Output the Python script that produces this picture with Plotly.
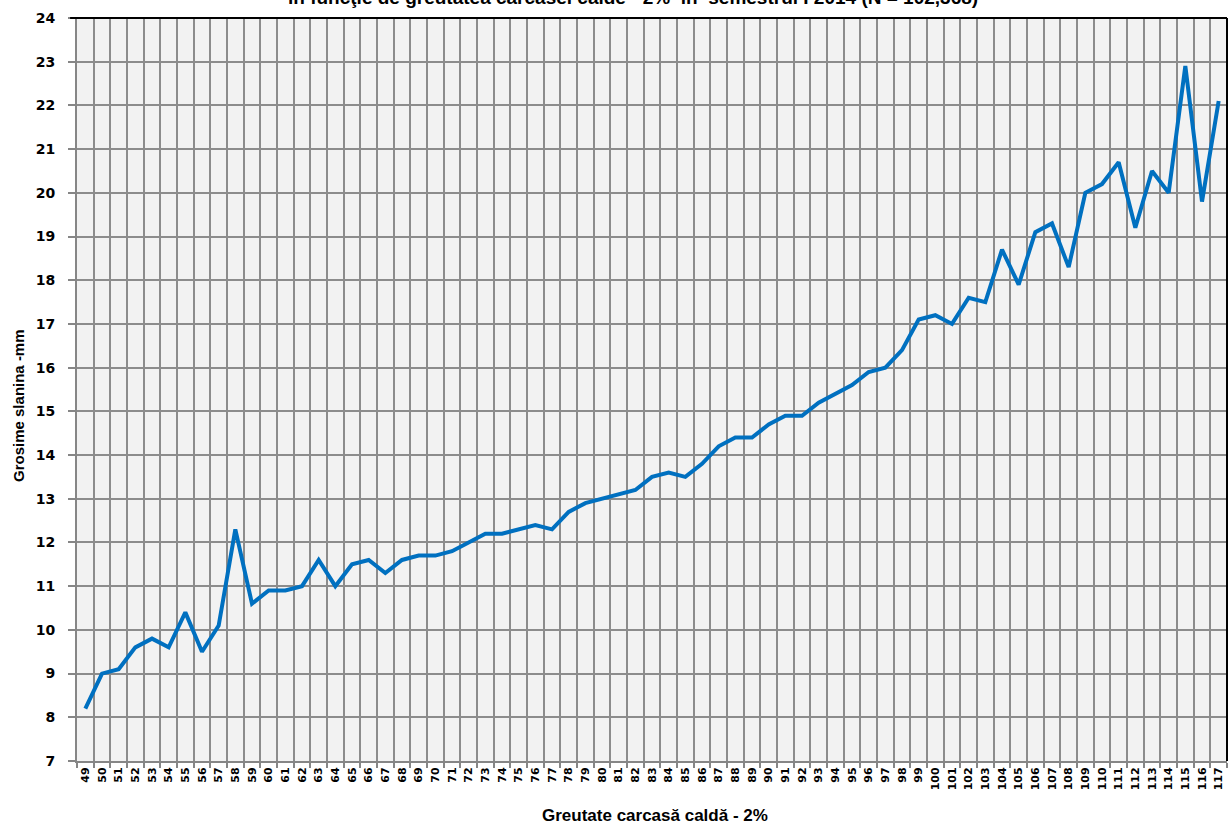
import plotly.graph_objects as go

weights = [str(w) for w in range(49, 118)]
backfat = [8.2, 9.0, 9.1, 9.6, 9.8, 9.6, 10.4, 9.5, 10.1, 12.3,
           10.6, 10.9, 10.9, 11.0, 11.6, 11.0, 11.5, 11.6, 11.3, 11.6,
           11.7, 11.7, 11.8, 12.0, 12.2, 12.2, 12.3, 12.4, 12.3, 12.7,
           12.9, 13.0, 13.1, 13.2, 13.5, 13.6, 13.5, 13.8, 14.2, 14.4,
           14.4, 14.7, 14.9, 14.9, 15.2, 15.4, 15.6, 15.9, 16.0, 16.4,
           17.1, 17.2, 17.0, 17.6, 17.5, 18.7, 17.9, 19.1, 19.3, 18.3,
           20.0, 20.2, 20.7, 19.2, 20.5, 20.0, 22.9, 19.8, 22.1]
y_ticks = list(range(7, 25))

title_text = "în funcţie de greutatea carcasei calde - 2%  în  semestrul I 2014 (N = 102,368)"
x_title = "Greutate carcasă caldă - 2%"
y_title = "Grosime slanina -mm"

W, H = 1229, 825
L, R, T, B = 77, 2, 18, 64
PW, PH = W - L - R, H - T - B

fig = go.Figure()
fig.add_trace(go.Scatter(
    x=weights, y=backfat, mode="lines",
    line=dict(color="#0070c0", width=4),
    showlegend=False, hoverinfo="x+y"))

fig.update_layout(
    width=W, height=H,
    margin=dict(l=L, r=R, t=T, b=B),
    paper_bgcolor="white",
    plot_bgcolor="#f2f2f2",
    xaxis=dict(
        type="category",
        tickson="boundaries",
        showgrid=True, gridcolor="#8c8c8c", gridwidth=2,
        ticks="outside", ticklen=5, tickcolor="#868686", tickwidth=2,
        showline=True, linecolor="#868686", linewidth=2,
        tickangle=-90,
        tickfont=dict(family="DejaVu Sans", size=11, color="black", weight="bold"),
        range=[-0.5, len(weights) - 0.5],
    ),
    yaxis=dict(
        range=[7, 24],
        tickvals=y_ticks,
        showgrid=True, gridcolor="#8c8c8c", gridwidth=2,
        ticks="outside", ticklen=7, tickcolor="#868686", tickwidth=2,
        ticklabelstandoff=10,
        showline=True, linecolor="#868686", linewidth=2,
        zeroline=False,
        tickfont=dict(family="DejaVu Sans", size=14, color="black", weight="bold"),
    ),
    annotations=[
        dict(text=title_text, xref="paper", yref="paper",
             x=(632 - L) / PW, y=1 + (T + 3) / PH,
             xanchor="center", yanchor="middle", showarrow=False,
             font=dict(family="Liberation Sans", size=19, color="black", weight="bold")),
        dict(text=x_title, xref="paper", yref="paper",
             x=(655 - L) / PW, y=-(815 - (H - B)) / PH,
             xanchor="center", yanchor="middle", showarrow=False,
             font=dict(family="Liberation Sans", size=17, color="black", weight="bold")),
        dict(text=y_title, xref="paper", yref="paper", textangle=-90,
             x=-(L - 18) / PW, y=((H - B) - 406) / PH,
             xanchor="center", yanchor="middle", showarrow=False,
             font=dict(family="Liberation Sans", size=15, color="black", weight="bold")),
    ],
)
# black border on top and right of plot area
fig.add_shape(type="line", xref="paper", yref="paper", x0=-0.006, x1=1, y0=1, y1=1,
              line=dict(color="black", width=2))
fig.add_shape(type="line", xref="paper", yref="paper", x0=1, x1=1, y0=0, y1=1,
              line=dict(color="black", width=2))

fig.write_html("out.html",
               config={"displayModeBar": False},
               post_script="document.body.style.margin='0';document.body.style.overflow='hidden';")
